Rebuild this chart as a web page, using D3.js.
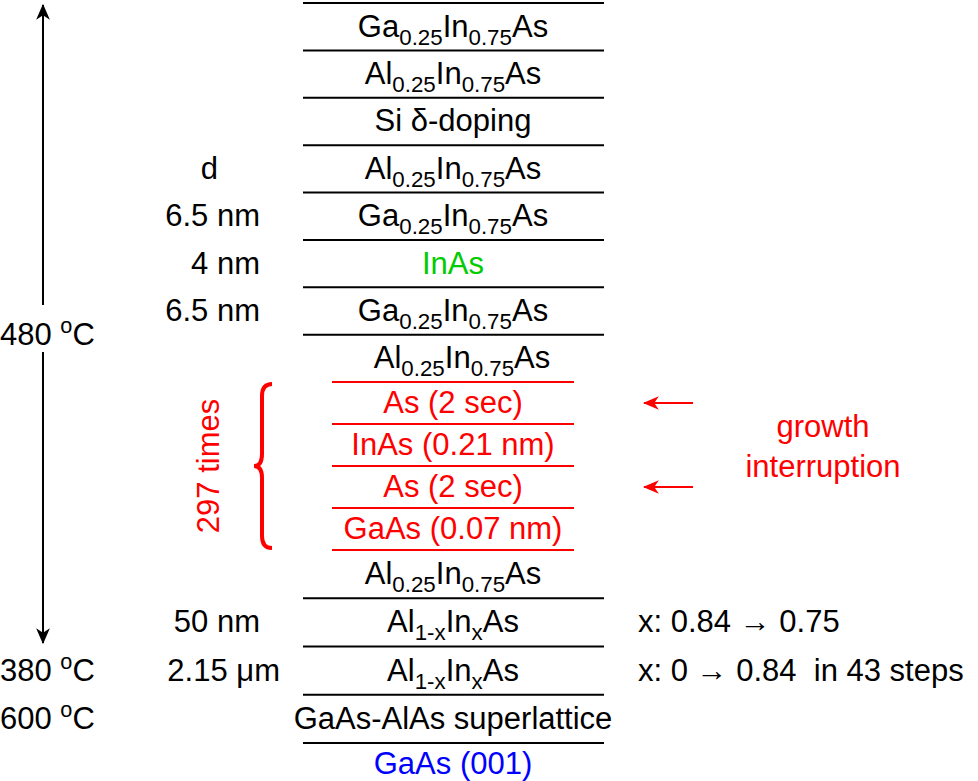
<!DOCTYPE html>
<html><head><meta charset="utf-8">
<script src="https://cdn.jsdelivr.net/npm/d3@7"></script>
<style>body{margin:0;background:#fff}</style>
</head><body><div class="canvas"></div>
<script>
// layer stack, top to bottom. parts: [text, sub?]
const layers = [
  [['Ga'],['0.25',1],['In'],['0.75',1],['As']],
  [['Al'],['0.25',1],['In'],['0.75',1],['As']],
  [['Si δ-doping']],
  [['Al'],['0.25',1],['In'],['0.75',1],['As']],
  [['Ga'],['0.25',1],['In'],['0.75',1],['As']],
  [['InAs']],
  [['Ga'],['0.25',1],['In'],['0.75',1],['As']],
  [['Al'],['0.25',1],['In'],['0.75',1],['As']],
  [['As (2 sec)']],
  [['InAs (0.21 nm)']],
  [['As (2 sec)']],
  [['GaAs (0.07 nm)']],
  [['Al'],['0.25',1],['In'],['0.75',1],['As']],
  [['Al'],['1-x',1],['In'],['x',1],['As']],
  [['Al'],['1-x',1],['In'],['x',1],['As']],
  [['GaAs-AlAs superlattice']],
  [['GaAs (001)']]
];
const layerColors = ['#000','#000','#000','#000','#000','#0c0','#000','#000','red','red','red','red','#000','#000','#000','#000','#00f'];
const thickness = ['', '', '', 'd', '6.5 nm', '4 nm', '6.5 nm', '', '', '', '', '', '', '50 nm', '2.15 μm', '', ''];
// interfaces (boundary index)
const blackLines = [0,1,2,3,4,5,6,7,13,14,15,16];
const redLines = [8,9,10,11,12];
const temps = [['480 °C', 6.5], ['380 °C', 14], ['600 °C', 15]];
const compNotes = [['x: 0.84 → 0.75', 13], ['x: 0 → 0.84  in 43 steps', 14]];
const interruptRows = [8, 10];

const W = 978, H = 781;
const svg = d3.select('.canvas').append('svg').attr('width', W).attr('height', H)
  .style('font-family', 'Liberation Sans, Arial, sans-serif');

// boundary index -> y
const y = d3.scaleLinear().domain([0, 8, 12, 16]).range([3, 382, 550, 743]);
const mid = i => y(i + 0.5);
const fs = 31;

svg.selectAll('line.b').data(blackLines).enter().append('line')
  .attr('x1', 303).attr('x2', 604).attr('y1', d => y(d)).attr('y2', d => y(d))
  .attr('stroke', '#000').attr('stroke-width', 2);
svg.selectAll('line.r').data(redLines).enter().append('line')
  .attr('x1', 332).attr('x2', 574).attr('y1', d => y(d)).attr('y2', d => y(d))
  .attr('stroke', 'red').attr('stroke-width', 2);

// layer names
layers.forEach((parts, i) => {
  const cx = i === 7 ? 462 : 453;
  const t = svg.append('text').attr('x', cx).attr('y', mid(i) + (i === 16 ? 7 : 10))
    .attr('text-anchor', 'middle').attr('font-size', fs).attr('fill', layerColors[i])
    .attr('textLength', null);
  parts.forEach(p => {
    const s = t.append('tspan').text(p[0]);
    if (p[1]) s.attr('font-size', fs * 0.72).attr('dy', 8);
    else if (s.node().previousSibling) s.attr('dy', -8);
  });
});

// thickness labels
svg.selectAll('text.th').data(thickness.map((d, i) => [d, i]).filter(d => d[0])).enter().append('text')
  .attr('x', d => d[0] === 'd' ? 218 : d[0] === '2.15 μm' ? 280 : 260)
  .attr('y', d => mid(d[1]) + 10).attr('font-size', fs)
  .attr('text-anchor', 'end').text(d => d[0]);

// temperatures
temps.forEach(([txt, i]) => {
  const t = svg.append('text').attr('x', 0).attr('y', mid(i) + 10).attr('font-size', fs);
  const [n] = txt.split(' ');
  t.append('tspan').text(n + ' ');
  t.append('tspan').text('o').attr('font-size', fs * 0.7).attr('dy', -12);
  t.append('tspan').text('C').attr('dy', 12);
});

// vertical arrow
const defs = svg.append('defs');
['k', 'r'].forEach(k => {
  defs.append('marker').attr('id', 'ah' + k).attr('viewBox', '0 0 14 12').attr('refX', 13).attr('refY', 6)
    .attr('markerWidth', 16).attr('markerHeight', 14).attr('markerUnits', 'userSpaceOnUse').attr('orient', 'auto')
    .append('path').attr('d', 'M0,0 L14,6 L0,12 L4,6 Z').attr('fill', k === 'k' ? '#000' : 'red');
});
svg.append('line').attr('x1', 43).attr('x2', 43).attr('y1', 305).attr('y2', 5)
  .attr('stroke', '#000').attr('stroke-width', 2).attr('marker-end', 'url(#ahk)');
svg.append('line').attr('x1', 43).attr('x2', 43).attr('y1', 352).attr('y2', 643)
  .attr('stroke', '#000').attr('stroke-width', 2).attr('marker-end', 'url(#ahk)');

// brace
const b0 = y(8) + 2, b1 = y(12) - 2, bm = (b0 + b1) / 2;
svg.append('path')
  .attr('d', `M272,${b0} Q262,${b0} 262,${b0 + 12} L262,${bm - 12} Q262,${bm} 254,${bm}
              Q262,${bm} 262,${bm + 12} L262,${b1 - 12} Q262,${b1} 272,${b1}`)
  .attr('fill', 'none').attr('stroke', 'red').attr('stroke-width', 4);
svg.append('text').attr('transform', `translate(219,${bm}) rotate(-90)`)
  .attr('text-anchor', 'middle').attr('font-size', fs).attr('fill', 'red').text('297 times');

// growth interruption arrows
svg.selectAll('line.ga').data(interruptRows).enter().append('line')
  .attr('x1', 693).attr('x2', 644).attr('y1', d => mid(d)).attr('y2', d => mid(d))
  .attr('stroke', 'red').attr('stroke-width', 2).attr('marker-end', 'url(#ahr)');
svg.append('text').attr('x', 823).attr('y', 437).attr('text-anchor', 'middle')
  .attr('font-size', fs).attr('fill', 'red').text('growth');
svg.append('text').attr('x', 823).attr('y', 477).attr('text-anchor', 'middle')
  .attr('font-size', fs).attr('fill', 'red').text('interruption');

// composition notes
compNotes.forEach(([txt, i]) => {
  svg.append('text').attr('x', 638).attr('y', mid(i) + 10).attr('font-size', fs)
    .style('white-space', 'pre').text(txt);
});
</script>
</body></html>
